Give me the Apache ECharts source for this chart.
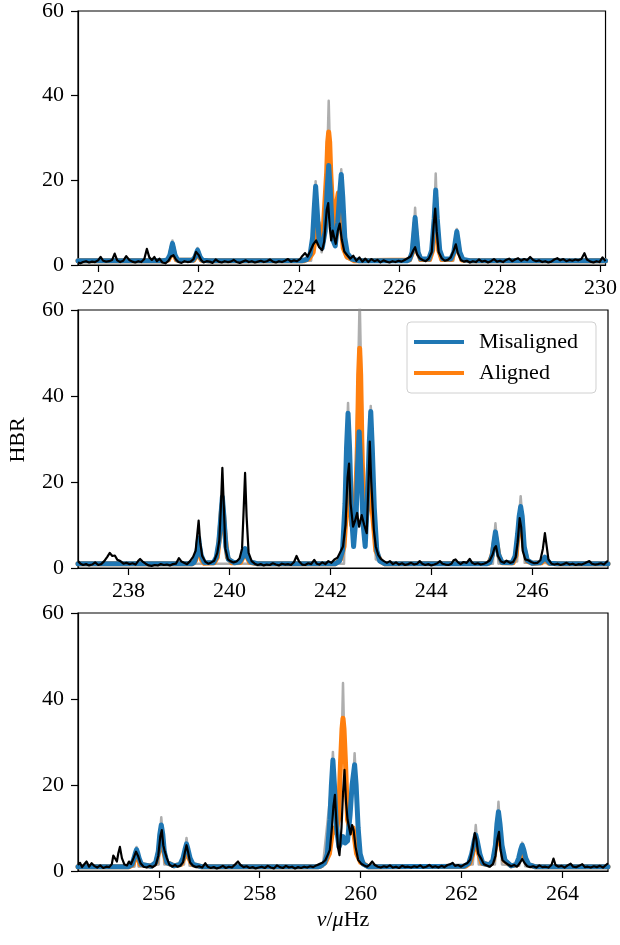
<!DOCTYPE html>
<html>
<head>
<meta charset="utf-8">
<script src="https://cdn.jsdelivr.net/npm/echarts@6/dist/echarts.min.js"></script>
<style>
  html, body { margin: 0; padding: 0; background: #fff; }
  #chart { width: 620px; height: 945px; }
</style>
</head>
<body>
<div id="chart"></div>
<script>
// x ranges and ticks of the three panels
const p1Range = [219.6, 230.1];
const p2Range = [237.0, 247.5];
const p3Range = [254.4, 264.9];
const p1Ticks = [220, 222, 224, 226, 228, 230];
const p2Ticks = [238, 240, 242, 244, 246];
const p3Ticks = [256, 258, 260, 262, 264];
const yTicks = [0, 20, 40, 60];

// panel 1 (219.6 - 230.1 uHz)
const p1Upper = [[219.6,1.0],[221.42,1.0],[221.46,3.5],[221.48,5.8],[221.50,3.5],[221.54,1.0],[221.92,1.0],[221.96,2.5],[221.98,4.0],[222.00,2.5],[222.04,1.0],
  [224.24,1.0],[224.30,12],[224.33,19.8],[224.36,12],[224.45,3],[224.55,20],[224.59,38.8],[224.63,20],[224.72,5],[224.81,15],[224.84,22.6],[224.87,15],[224.95,1.5],[225.1,1],
  [226.22,1],[226.28,7],[226.31,13.5],[226.34,7],[226.40,1.0],[226.62,1],[226.69,11],[226.72,21.6],[226.75,11],[226.82,1],[227.07,1],[227.11,5.5],[227.14,8.5],[227.17,5.5],[227.22,1],[230.1,1]];
const p1Misaligned = [[219.6,1.0],[221.3,1.0],[221.38,1.2],[221.43,2.4],[221.46,4.0],[221.48,5.1],[221.50,4.0],[221.53,2.4],[221.58,1.2],
  [221.88,1.1],[221.93,1.9],[221.96,2.9],[221.98,3.5],[222.00,2.9],[222.03,1.9],[222.08,1.1],[222.2,1.0],[224.05,1.0],
  [224.15,1.3],[224.22,2.5],[224.27,6.5],[224.30,13],[224.33,18.6],[224.36,13],[224.40,5.5],[224.46,4.0],[224.52,8],[224.56,18],[224.59,23.5],[224.62,18],
  [224.67,6],[224.72,4.5],[224.77,10],[224.81,17],[224.84,21.4],[224.87,16],[224.91,6.5],[224.96,2.8],[225.05,1.4],[225.2,1.0],
  [226.15,1.0],[226.2,1.3],[226.25,3.0],[226.28,7],[226.31,11.2],[226.34,7],[226.37,3],[226.42,1.5],
  [226.58,1.4],[226.64,3.5],[226.69,11],[226.72,17.7],[226.75,11],[226.80,3.5],[226.86,1.5],
  [227.02,1.4],[227.08,3],[227.11,5.5],[227.14,7.9],[227.17,5.5],[227.20,3],[227.26,1.3],[227.4,1.0],[230.1,1.0]];
const p1Aligned = [[219.6,1.0],[221.3,1.0],[221.40,1.2],[221.44,2.2],[221.46,3.6],[221.48,4.6],[221.50,3.6],[221.52,2.2],[221.56,1.2],
  [221.90,1.1],[221.94,1.8],[221.96,2.6],[221.98,3.1],[222.00,2.6],[222.02,1.8],[222.06,1.1],[222.2,1.0],
  [224.1,1.0],[224.2,1.5],[224.28,3],[224.34,8],[224.38,10],[224.42,6],[224.48,8],[224.55,22],[224.57,29],[224.59,31.4],[224.61,29],[224.63,22],
  [224.69,8],[224.74,14],[224.78,17],[224.82,12],[224.88,4],[224.95,2],[225.1,1.0],
  [226.2,1.2],[226.26,3],[226.29,7],[226.31,10],[226.33,7],[226.36,3],[226.42,1.3],
  [226.6,1.3],[226.66,3.5],[226.70,11],[226.72,16],[226.74,11],[226.78,3.5],[226.84,1.3],
  [227.04,1.3],[227.09,3],[227.12,5.2],[227.14,7],[227.16,5.2],[227.19,3],[227.24,1.2],[227.4,1.0],[230.1,1.0]];
const p1Data = [[219.60,0.6],[219.65,0.4],[219.70,0.7],[219.76,0.9],[219.82,0.6],[219.88,0.8],[219.94,0.7],[220.00,1.1],[220.05,1.9],[220.10,1.0],[220.16,0.8],[220.22,0.9],
  [220.28,1.2],[220.33,2.7],[220.38,1.1],[220.44,0.7],[220.50,1.0],[220.56,2.1],[220.62,1.2],[220.68,0.8],[220.74,0.6],[220.80,0.9],[220.86,0.7],[220.92,1.4],[220.97,3.8],
  [221.02,1.8],[221.07,1.2],[221.12,1.9],[221.17,0.9],[221.22,1.5],[221.28,0.6],[221.34,0.4],[221.40,1.0],[221.45,2.0],[221.50,2.3],[221.55,1.3],[221.60,0.7],[221.66,0.5],
  [221.72,0.9],[221.78,0.7],[221.84,0.8],[221.90,1.4],[221.95,3.1],[222.00,2.4],[222.05,1.2],[222.10,0.6],[222.16,0.9],[222.22,0.8],[222.28,0.5],[222.34,1.3],[222.40,0.8],
  [222.46,0.6],[222.52,0.9],[222.58,0.7],[222.64,0.8],[222.70,1.2],[222.76,0.7],[222.82,0.5],[222.88,0.8],[222.94,1.1],[223.00,0.7],[223.06,0.9],[223.12,0.6],[223.18,0.8],
  [223.24,1.0],[223.30,0.7],[223.36,0.9],[223.42,1.3],[223.48,0.8],[223.54,0.6],[223.60,0.9],[223.66,0.7],[223.72,1.0],[223.78,1.4],[223.84,0.8],[223.90,1.1],[223.96,0.9],
  [224.02,1.4],[224.07,2.2],[224.12,2.8],[224.17,2.0],[224.22,3.2],[224.28,4.8],[224.34,5.8],[224.40,4.2],[224.46,3.5],[224.50,5.5],[224.55,13.0],[224.58,14.6],[224.61,9.0],
  [224.64,5.8],[224.67,8.1],[224.70,6.5],[224.73,5.0],[224.77,8.0],[224.81,9.8],[224.85,6.0],[224.90,3.2],[224.96,2.3],[225.02,1.5],[225.08,2.2],[225.14,1.0],[225.20,1.8],
  [225.26,0.8],[225.32,1.5],[225.38,0.7],[225.44,1.4],[225.50,0.9],[225.56,1.2],[225.62,0.6],[225.68,1.1],[225.74,0.8],[225.80,0.6],[225.86,0.9],[225.92,0.7],[225.98,1.0],
  [226.04,0.8],[226.10,1.2],[226.16,1.6],[226.22,2.0],[226.28,3.6],[226.31,4.2],[226.35,2.5],[226.40,1.6],[226.46,1.2],[226.52,0.9],[226.58,1.5],[226.64,3.0],[226.68,9.5],
  [226.71,13.3],[226.74,8.0],[226.78,3.0],[226.84,1.6],[226.90,1.0],[226.96,1.2],[227.02,1.8],[227.08,3.5],[227.12,4.9],[227.16,2.8],[227.22,1.2],[227.28,0.8],[227.34,1.0],
  [227.40,0.6],[227.46,0.9],[227.52,0.7],[227.58,1.3],[227.64,0.8],[227.70,1.0],[227.76,0.6],[227.82,0.9],[227.88,1.4],[227.94,0.8],[228.00,1.0],[228.06,0.7],[228.12,1.2],
  [228.18,1.5],[228.24,0.9],[228.30,1.3],[228.36,1.6],[228.42,1.0],[228.48,1.4],[228.54,1.1],[228.60,1.9],[228.66,1.2],[228.72,0.9],[228.78,1.1],[228.84,0.7],[228.90,0.9],
  [228.96,0.6],[229.02,0.8],[229.08,1.3],[229.14,1.6],[229.20,1.1],[229.26,1.4],[229.32,0.9],[229.38,1.2],[229.44,1.0],[229.50,1.3],[229.56,1.1],[229.62,1.4],[229.68,2.8],
  [229.73,1.3],[229.80,0.8],[229.86,0.6],[229.92,0.9],[229.98,0.7],[230.04,1.8],[230.10,0.9]];

// panel 2 (237.0 - 247.5 uHz)
const p2Upper = [[237,1],[242.27,1],[242.32,28],[242.35,38.4],[242.38,28],[242.46,5],[242.55,45],[242.58,63],[242.61,45],[242.69,5],[242.77,29],[242.80,37.7],[242.83,28],
  [242.90,2],[243.05,1],[245.22,1],[245.24,6],[245.27,10.4],[245.30,6],[245.33,1],[245.70,1.5],[245.74,12],[245.77,16.7],[245.80,12],[245.85,1.2],[247.5,1]];
const p2Misaligned = [[237.0,1.0],[239.25,1.0],[239.3,1.3],[239.35,3],[239.37,5],[239.39,7],[239.41,5],[239.44,3],[239.5,1.3],[239.68,1.2],[239.74,2.5],[239.79,6],[239.83,12],
  [239.86,16.5],[239.89,12],[239.93,5],[239.98,2],[240.1,1.2],[240.2,1.4],[240.26,2.5],[240.29,3.8],[240.31,4.5],[240.33,3.8],[240.36,2.5],[240.42,1.4],[240.55,1.0],
  [242.1,1.0],[242.18,1.6],[242.24,4],[242.29,15],[242.32,28],[242.35,36],[242.38,28],[242.42,12],[242.46,5],[242.51,12],[242.54,24],[242.57,31.7],[242.60,24],[242.65,10],
  [242.69,5],[242.73,15],[242.77,29],[242.80,36.4],[242.83,28],[242.87,14],[242.92,4],[242.98,1.6],[243.08,1.0],
  [245.1,1.0],[245.16,1.3],[245.21,3.2],[245.24,6],[245.27,8.4],[245.30,6],[245.33,3.2],[245.4,1.3],[245.6,1.2],[245.66,2.8],[245.71,8],[245.74,12],[245.77,14.3],[245.80,12],
  [245.84,5],[245.9,1.8],[246.0,1.1],[246.15,1.2],[246.22,2],[246.25,2.5],[246.28,2],[246.35,1.1],[246.5,1.0],[247.5,1.0]];
const p2Aligned = [[237,1],[239.27,1.0],[239.33,1.8],[239.37,4],[239.39,6],[239.41,4],[239.45,1.8],[239.5,1.1],[239.7,1.2],[239.76,2.5],[239.81,8],[239.84,13],[239.86,15],
  [239.88,13],[239.91,8],[239.96,2.5],[240.05,1.2],[240.22,1.3],[240.28,2.8],[240.31,4],[240.34,2.8],[240.40,1.3],[240.55,1.0],
  [242.1,1.0],[242.2,2],[242.27,5],[242.32,14],[242.36,20],[242.42,10],[242.47,10],[242.53,25],[242.56,45],[242.58,51.1],[242.60,45],[242.63,25],
  [242.69,10],[242.74,14],[242.79,20],[242.84,12],[242.9,4],[243.0,1.5],[243.08,1.0],
  [245.14,1.1],[245.20,2.8],[245.24,5.5],[245.27,7.5],[245.30,5.5],[245.34,2.8],[245.4,1.2],[245.62,1.2],[245.68,3],[245.72,8],[245.75,11.5],[245.77,13],[245.79,11.5],
  [245.83,5],[245.9,1.6],[246.0,1.1],[246.18,1.2],[246.23,1.9],[246.25,2.3],[246.27,1.9],[246.33,1.1],[246.5,1.0],[247.5,1]];
const p2Data = [[237.00,1.6],[237.05,1.0],[237.10,0.7],[237.16,0.9],[237.22,0.6],[237.28,0.8],[237.34,1.3],[237.40,0.7],[237.46,0.9],[237.52,1.6],[237.58,2.6],[237.63,3.5],
  [237.68,2.8],[237.73,2.9],[237.78,1.9],[237.84,1.6],[237.90,1.0],[237.96,1.2],[238.02,0.9],[238.08,1.1],[238.14,0.8],[238.19,1.6],[238.23,2.1],[238.28,1.5],[238.34,1.0],
  [238.40,0.6],[238.46,0.5],[238.52,0.7],[238.58,0.6],[238.64,0.9],[238.70,0.7],[238.76,0.8],[238.82,0.6],[238.88,0.9],[238.94,1.0],[239.00,2.3],[239.05,1.5],[239.10,1.2],
  [239.16,0.9],[239.22,1.6],[239.28,2.6],[239.33,4.0],[239.36,7.5],[239.39,11.0],[239.42,6.0],[239.46,2.8],[239.52,1.5],[239.58,1.0],[239.64,1.3],[239.70,1.7],[239.76,3.5],
  [239.80,6.5],[239.83,14],[239.86,23.3],[239.89,14],[239.92,4.5],[239.97,2.0],[240.02,1.6],[240.08,1.3],[240.14,1.5],[240.20,2.2],[240.25,4.5],[240.28,13],[240.31,22.1],
  [240.34,12],[240.38,3.5],[240.44,1.6],[240.50,1.0],[240.56,0.7],[240.62,0.9],[240.68,0.6],[240.74,0.8],[240.80,0.7],[240.86,1.1],[240.92,0.8],[240.98,0.6],[241.04,1.0],
  [241.10,0.8],[241.16,0.9],[241.22,0.7],[241.28,1.4],[241.33,2.8],[241.38,1.5],[241.44,0.8],[241.50,0.7],[241.56,1.1],[241.62,0.9],[241.68,1.9],[241.73,1.0],[241.78,0.8],
  [241.84,1.3],[241.90,0.9],[241.96,1.6],[242.02,1.2],[242.08,2.0],[242.14,2.4],[242.20,3.8],[242.25,5.0],[242.30,10],[242.34,21],[242.37,24.3],[242.40,15],[242.45,9.6],
  [242.49,11],[242.53,12.8],[242.57,9.6],[242.62,12.3],[242.67,10],[242.72,8.1],[242.75,18],[242.78,29.4],[242.81,20],[242.86,9],[242.90,5.0],[242.95,3.0],[243.00,2.1],
  [243.06,1.6],[243.12,1.2],[243.18,1.6],[243.24,0.9],[243.30,1.3],[243.36,0.8],[243.42,1.1],[243.48,0.7],[243.54,0.9],[243.60,1.2],[243.66,0.8],[243.72,1.0],[243.77,1.6],
  [243.82,1.0],[243.88,0.7],[243.94,0.9],[244.00,0.6],[244.06,0.8],[244.12,1.1],[244.17,1.6],[244.22,1.0],[244.28,0.8],[244.34,0.7],[244.40,1.0],[244.44,1.8],[244.48,2.0],
  [244.53,1.3],[244.58,0.9],[244.64,1.4],[244.70,1.2],[244.76,2.1],[244.81,1.2],[244.86,0.9],[244.92,1.1],[244.98,0.8],[245.04,1.0],[245.10,1.3],[245.16,1.8],[245.21,3.0],
  [245.25,4.6],[245.28,5.1],[245.32,2.8],[245.38,1.5],[245.44,1.2],[245.49,1.7],[245.52,2.1],[245.56,1.2],[245.62,1.4],[245.67,2.5],[245.71,6.0],[245.75,11.6],[245.78,9.5],
  [245.81,4.0],[245.86,2.0],[245.92,1.8],[245.98,1.4],[246.04,1.1],[246.10,1.2],[246.16,1.8],[246.21,4.5],[246.25,8.1],[246.28,5.5],[246.32,2.0],[246.38,1.0],[246.44,0.8],
  [246.50,1.0],[246.56,0.7],[246.62,0.9],[246.68,1.2],[246.74,0.8],[246.80,1.0],[246.86,0.7],[246.92,0.9],[246.98,0.8],[247.04,1.1],[247.09,1.4],[247.13,1.6],[247.18,1.0],
  [247.24,0.8],[247.30,0.9],[247.36,1.1],[247.42,0.8],[247.48,1.5],[247.50,1.6]];

// panel 3 (254.4 - 264.9 uHz)
const p3Upper = [[254.4,1],[255.52,1],[255.54,4],[255.56,5.6],[255.58,4],[255.60,1],[256.00,1.5],[256.02,8],[256.05,12.5],[256.08,8],[256.11,1.5],[256.50,1.5],[256.52,5],
  [256.55,7.7],[256.58,5],[256.61,1.2],[259.25,1],[259.42,20],[259.45,27.7],[259.48,20],[259.56,8],[259.63,33],[259.65,43.7],[259.67,33],[259.75,8],[259.85,20],[259.88,27.4],
  [259.91,20],[260.0,3],[260.15,1],[262.22,1.5],[262.25,6],[262.28,10.7],[262.31,6],[262.34,1.5],[262.66,1.5],[262.70,10],[262.73,16.1],[262.76,10],[262.80,1.5],[263.14,1.2],
  [263.17,4.5],[263.20,6.6],[263.23,4.5],[263.26,1.1],[264.9,1]];
const p3Misaligned = [[254.4,1.0],[255.4,1.0],[255.47,1.5],[255.51,3],[255.54,4.3],[255.56,5.0],[255.58,4.3],[255.61,3],[255.66,1.5],[255.85,1.1],[255.94,2],[255.99,4.5],
  [256.02,8.5],[256.05,10.7],[256.08,8.5],[256.11,4.5],[256.16,2],[256.3,1.2],[256.42,1.5],[256.48,3],[256.52,5],[256.55,6.3],[256.58,5],[256.62,3],[256.68,1.5],[256.85,1.0],
  [259.15,1.0],[259.2,1.1],[259.28,1.8],[259.34,4],[259.39,12],[259.42,20],[259.45,25.8],[259.48,20],[259.52,10],[259.57,5.6],[259.62,7],[259.65,8],[259.69,6.5],[259.74,7],
  [259.79,13],[259.83,20],[259.88,24.7],[259.91,20],[259.95,10],[259.99,4],[260.05,1.6],[260.15,1.0],
  [262.05,1.1],[262.14,1.8],[262.2,4],[262.25,7],[262.28,8.4],[262.31,7],[262.36,4],[262.42,1.8],[262.55,1.4],[262.62,2.5],[262.67,6],[262.70,11],[262.73,13.8],[262.76,11],
  [262.80,6],[262.86,2.5],[262.98,1.2],[263.08,1.5],[263.13,3],[263.17,5],[263.20,6.0],[263.23,5],[263.27,3],[263.33,1.5],[263.45,1.0],[264.9,1.0]];
const p3Aligned = [[254.4,1.0],[255.42,1.0],[255.49,1.5],[255.53,3],[255.56,4.5],[255.59,3],[255.63,1.5],[255.85,1.1],[255.95,2],[256.00,4.5],[256.03,8],[256.05,9.8],
  [256.07,8],[256.10,4.5],[256.15,2],[256.3,1.2],[256.44,1.5],[256.50,3],[256.53,4.8],[256.55,5.8],[256.57,4.8],[256.60,3],[256.66,1.5],[256.85,1.0],
  [259.15,1.0],[259.2,1.1],[259.3,2],[259.38,4],[259.45,10],[259.5,9],[259.56,12],[259.6,25],[259.63,33],[259.65,35.5],[259.67,33],[259.70,25],[259.74,12],
  [259.8,9],[259.85,10],[259.92,4],[260.0,2],[260.15,1.0],
  [262.08,1.1],[262.16,1.8],[262.22,4],[262.26,6.5],[262.28,7.6],[262.30,6.5],[262.34,4],[262.40,1.8],[262.55,1.4],[262.63,2.5],[262.68,6],[262.71,10.5],[262.73,12.5],
  [262.75,10.5],[262.78,6],[262.84,2.5],[262.98,1.2],[263.10,1.5],[263.15,3],[263.18,4.8],[263.20,5.5],[263.22,4.8],[263.25,3],[263.31,1.5],[263.45,1.0],[264.9,1.0]];
const p3Data = [[254.40,1.4],[254.44,1.9],[254.48,0.9],[254.52,1.5],[254.57,2.2],[254.62,1.0],[254.67,1.8],[254.72,1.2],[254.78,0.8],[254.84,1.3],[254.90,0.7],[254.96,1.0],
  [255.02,0.9],[255.07,1.6],[255.10,3.6],[255.13,4.0],[255.17,2.2],[255.20,4.2],[255.23,5.6],[255.27,3.0],[255.32,1.5],[255.37,1.3],[255.41,2.2],[255.45,1.6],[255.50,3.0],
  [255.55,4.5],[255.59,3.5],[255.64,1.8],[255.70,1.0],[255.76,0.8],[255.82,1.2],[255.88,0.9],[255.94,1.4],[255.99,3.5],[256.03,8.0],[256.06,9.5],[256.09,6.0],[256.12,4.5],
  [256.16,3.0],[256.21,1.5],[256.27,1.0],[256.32,1.4],[256.37,1.0],[256.43,1.3],[256.48,2.0],[256.52,4.5],[256.55,6.0],[256.58,4.5],[256.62,2.0],[256.68,1.2],[256.74,0.9],
  [256.80,1.1],[256.86,0.8],[256.92,1.8],[256.97,1.0],[257.03,0.7],[257.09,0.9],[257.15,0.6],[257.21,0.8],[257.27,1.2],[257.33,0.7],[257.39,1.0],[257.45,0.8],[257.52,1.6],
  [257.57,2.2],[257.62,1.4],[257.68,0.9],[257.74,1.1],[257.80,0.7],[257.86,0.9],[257.92,0.6],[257.98,0.8],[258.04,1.0],[258.10,0.7],[258.16,1.2],[258.22,0.8],[258.28,0.6],
  [258.34,1.3],[258.40,0.9],[258.46,0.7],[258.52,1.2],[258.58,0.8],[258.64,1.0],[258.70,0.6],[258.76,0.9],[258.82,0.7],[258.88,1.0],[258.94,0.8],[259.00,1.1],[259.06,0.9],
  [259.12,1.3],[259.18,1.6],[259.24,1.9],[259.30,2.5],[259.35,3.8],[259.39,4.9],[259.43,10],[259.46,15],[259.49,17.7],[259.52,11],[259.55,5.5],[259.58,3.7],[259.62,10],
  [259.65,18],[259.68,23.5],[259.71,16],[259.74,11.9],[259.77,11.6],[259.80,8.5],[259.83,10.7],[259.86,9.5],[259.90,5.5],[259.95,2.6],[260.01,1.7],[260.07,1.3],[260.13,1.0],
  [260.18,1.5],[260.23,2.2],[260.28,1.4],[260.34,1.0],[260.40,0.8],[260.46,1.1],[260.52,0.9],[260.58,1.3],[260.64,0.8],[260.70,1.0],[260.76,0.7],[260.82,1.2],[260.88,0.9],
  [260.94,1.0],[261.00,0.8],[261.06,1.1],[261.12,0.9],[261.18,1.3],[261.24,0.8],[261.30,1.0],[261.36,1.4],[261.42,0.9],[261.48,1.1],[261.54,0.8],[261.60,1.2],[261.66,0.9],
  [261.72,1.4],[261.78,1.6],[261.82,1.9],[261.87,1.2],[261.93,1.4],[261.99,1.0],[262.05,1.5],[262.11,1.8],[262.17,2.6],[262.22,5.5],[262.26,8.8],[262.29,7.5],[262.33,4.0],
  [262.38,3.0],[262.44,1.6],[262.50,1.3],[262.56,1.0],[262.62,1.6],[262.67,3.5],[262.71,7.5],[262.74,9.1],[262.77,5.0],[262.81,2.5],[262.86,2.0],[262.92,1.5],[262.98,1.1],
  [263.04,1.4],[263.10,1.0],[263.15,1.8],[263.20,2.8],[263.25,1.8],[263.30,1.1],[263.36,0.9],[263.42,1.1],[263.48,0.8],[263.54,1.3],[263.60,0.9],[263.66,1.0],[263.72,0.8],
  [263.78,1.4],[263.82,2.9],[263.86,1.4],[263.92,1.0],[263.98,1.2],[264.04,0.8],[264.10,1.3],[264.16,1.7],[264.21,1.0],[264.27,0.9],[264.33,1.2],[264.39,1.6],[264.44,0.9],
  [264.50,1.0],[264.56,0.8],[264.62,1.1],[264.68,0.9],[264.74,1.2],[264.80,0.8],[264.86,1.4],[264.90,1.8]];

const FONT = '"Liberation Serif", "Times New Roman", serif';
const BLUE = '#1f77b4';
const ORANGE = '#ff7f0e';

const panels = [
  { range: p1Range, ticks: p1Ticks, upper: p1Upper, mis: p1Misaligned, ali: p1Aligned, data: p1Data, top: 7 },
  { range: p2Range, ticks: p2Ticks, upper: p2Upper, mis: p2Misaligned, ali: p2Aligned, data: p2Data, top: 310 },
  { range: p3Range, ticks: p3Ticks, upper: p3Upper, mis: p3Misaligned, ali: p3Aligned, data: p3Data, top: 613 }
];

const grid = [], xAxis = [], yAxis = [], series = [];
panels.forEach((p, i) => {
  grid.push({ left: 78, right: 12, top: p.top, height: 258, show: true, borderColor: '#000', borderWidth: 1.2, backgroundColor: 'transparent' });
  xAxis.push({
    type: 'value', gridIndex: i, min: p.range[0], max: p.range[1],
    axisLine: { show: true, onZero: false, lineStyle: { color: '#000', width: 1.2 } },
    axisTick: { show: true, length: 7, customValues: p.ticks, lineStyle: { color: '#000', width: 1.2 } },
    axisLabel: { customValues: p.ticks, margin: 12, color: '#000', fontFamily: FONT, fontSize: 22 },
    splitLine: { show: false }
  });
  yAxis.push({
    type: 'value', gridIndex: i, min: yTicks[0], max: yTicks[yTicks.length - 1], interval: 20,
    axisLine: { show: true, lineStyle: { color: '#000', width: 1.2 } },
    axisTick: { show: true, length: 7, lineStyle: { color: '#000', width: 1.2 } },
    axisLabel: { margin: 14, color: '#000', fontFamily: FONT, fontSize: 22 },
    splitLine: { show: false }
  });
  const common = { type: 'line', xAxisIndex: i, yAxisIndex: i, showSymbol: false, symbol: 'none', animation: false, silent: true };
  series.push(Object.assign({}, common, { name: 'Upper', data: p.upper, z: 1,
    lineStyle: { color: '#8c8c8c', width: 2.5, opacity: 0.7, join: 'round' } }));
  series.push(Object.assign({}, common, { name: 'Aligned', data: p.ali, z: 2, color: ORANGE,
    lineStyle: { color: ORANGE, width: 5, join: 'round', cap: 'round' } }));
  series.push(Object.assign({}, common, { name: 'Misaligned', data: p.mis, z: 3, color: BLUE,
    lineStyle: { color: BLUE, width: 5, join: 'round', cap: 'round' } }));
  series.push(Object.assign({}, common, { name: 'Data', data: p.data, z: 4, color: '#000',
    lineStyle: { color: '#000', width: 2.2, join: 'round' } }));
});

const chart = echarts.init(document.getElementById('chart'), null, { renderer: 'canvas' });
chart.setOption({
  animation: false,
  backgroundColor: '#fff',
  grid: grid,
  xAxis: xAxis,
  yAxis: yAxis,
  series: series,
  legend: {
    data: ['Misaligned', 'Aligned'],
    orient: 'vertical',
    left: 407, top: 322,
    icon: 'rect', itemWidth: 50, itemHeight: 4, itemGap: 9,
    padding: [9, 18, 9, 7],
    backgroundColor: '#fff', borderColor: '#d0d0d0', borderWidth: 1, borderRadius: 4,
    selectedMode: false,
    textStyle: { color: '#000', fontFamily: FONT, fontSize: 22, padding: [0, 0, 0, 10] }
  },
  graphic: [
    { type: 'text', x: 18, y: 440, rotation: Math.PI / 2,
      style: { text: 'HBR', fontFamily: FONT, fontSize: 22, fill: '#000', textAlign: 'center', textVerticalAlign: 'middle' } },
    { type: 'text', x: 343, y: 920,
      style: { text: '{i|ν}/{i|μ}Hz', fontFamily: FONT, fontSize: 22, fill: '#000', textAlign: 'center', textVerticalAlign: 'middle',
        rich: { i: { fontStyle: 'italic', fontFamily: FONT, fontSize: 22, fill: '#000' } } } }
  ]
});
</script>
</body>
</html>
